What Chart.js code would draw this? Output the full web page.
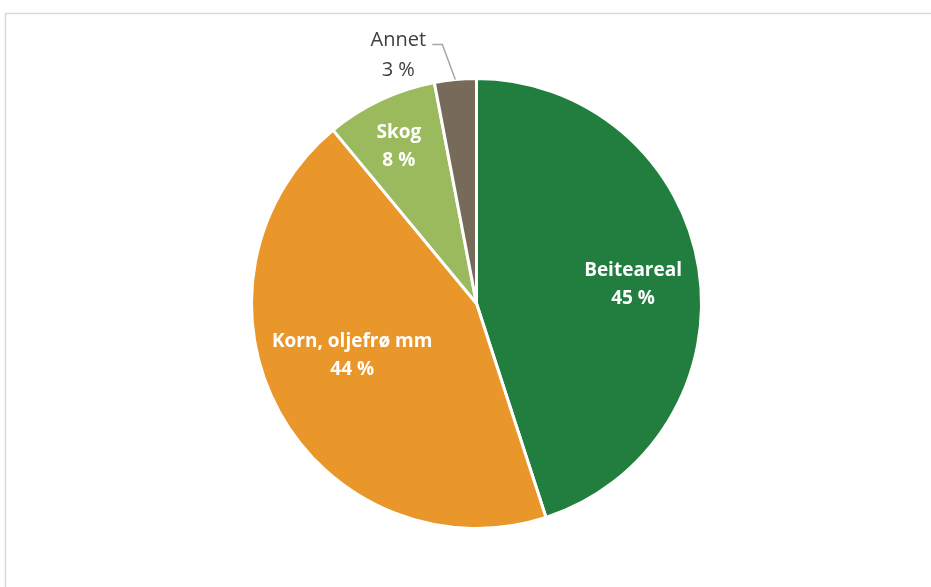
<!DOCTYPE html>
<html>
<head>
<meta charset="utf-8">
<script src="https://cdn.jsdelivr.net/npm/chart.js@4/dist/chart.umd.min.js"></script>
<style>
  html, body { margin: 0; padding: 0; background: #fff; }
  #wrap { position: relative; width: 931px; height: 587px; }
</style>
</head>
<body>
<div id="wrap"><canvas id="c" width="931" height="587"></canvas></div>
<script>
// Arealfordeling (prosent)
const categories = ['Beiteareal', 'Korn, oljefrø mm', 'Skog', 'Annet'];
const shares = [45, 44, 8, 3];
const colors = ['#217E3F', '#E9962B', '#9BBA5E', '#786A5B'];

const FONT = '"Open Sans", Lato, sans-serif';

// Label placement per slice: fraction of the radius along the slice's mid angle,
// plus a small pixel nudge; 'outside' labels get a leader line.
const labelLayout = [
  { f: 0.70, dx: 1, dy: 6, inside: true },
  { f: 0.60, dx: -6, dy: -13, inside: true },
  { f: 0.79, dx: -2, dy: 4, inside: true },
  { inside: false }
];

const frameBorder = {
  id: 'frameBorder',
  beforeDraw(chart) {
    const ctx = chart.ctx;
    ctx.save();
    ctx.strokeStyle = '#D9D9D9';
    ctx.lineWidth = 1.5;
    ctx.beginPath();
    ctx.moveTo(5.5, 587);
    ctx.lineTo(5.5, 13.5);
    ctx.lineTo(931, 13.5);
    ctx.stroke();
    ctx.restore();
  }
};

const sliceLabels = {
  id: 'sliceLabels',
  afterDatasetsDraw(chart) {
    const ctx = chart.ctx;
    const meta = chart.getDatasetMeta(0);
    const lineH = 28;
    ctx.save();
    ctx.textAlign = 'center';
    ctx.textBaseline = 'middle';
    meta.data.forEach((arc, i) => {
      const p = arc.getProps(['x', 'y', 'startAngle', 'endAngle', 'outerRadius'], true);
      const mid = (p.startAngle + p.endAngle) / 2;
      const lines = [categories[i], shares[i] + ' %'];
      const lay = labelLayout[i];
      if (lay.inside) {
        const r = p.outerRadius * lay.f;
        const cx = p.x + Math.cos(mid) * r + lay.dx;
        const cy = p.y + Math.sin(mid) * r + lay.dy;
        ctx.fillStyle = '#FFFFFF';
        ctx.font = 'bold 19px ' + FONT;
        ctx.fillText(lines[0], cx, cy - lineH / 2);
        ctx.fillText(lines[1], cx, cy + lineH / 2);
      } else {
        const ex = p.x + Math.cos(mid) * p.outerRadius;
        const ey = p.y + Math.sin(mid) * p.outerRadius;
        const bx = ex - 13, by = ey - 35;
        const tx = bx - 10;
        ctx.strokeStyle = '#A6A6A6';
        ctx.lineWidth = 1.5;
        ctx.beginPath();
        ctx.moveTo(ex, ey);
        ctx.lineTo(bx, by);
        ctx.lineTo(tx, by);
        ctx.stroke();
        ctx.fillStyle = '#404040';
        ctx.font = '20px ' + FONT;
        const cx = tx - 34;
        ctx.fillText(lines[0], cx, by - 4);
        ctx.fillText(lines[1], cx, by + 26);
      }
    });
    ctx.restore();
  }
};

new Chart(document.getElementById('c'), {
  type: 'pie',
  data: {
    labels: categories,
    datasets: [{
      data: shares,
      backgroundColor: colors,
      borderColor: '#FFFFFF',
      borderWidth: 3
    }]
  },
  options: {
    responsive: false,
    animation: false,
    layout: { padding: { top: 77, bottom: 57, left: 30, right: 8 } },
    plugins: {
      legend: { display: false },
      tooltip: { enabled: false }
    }
  },
  plugins: [frameBorder, sliceLabels]
});
</script>
</body>
</html>
